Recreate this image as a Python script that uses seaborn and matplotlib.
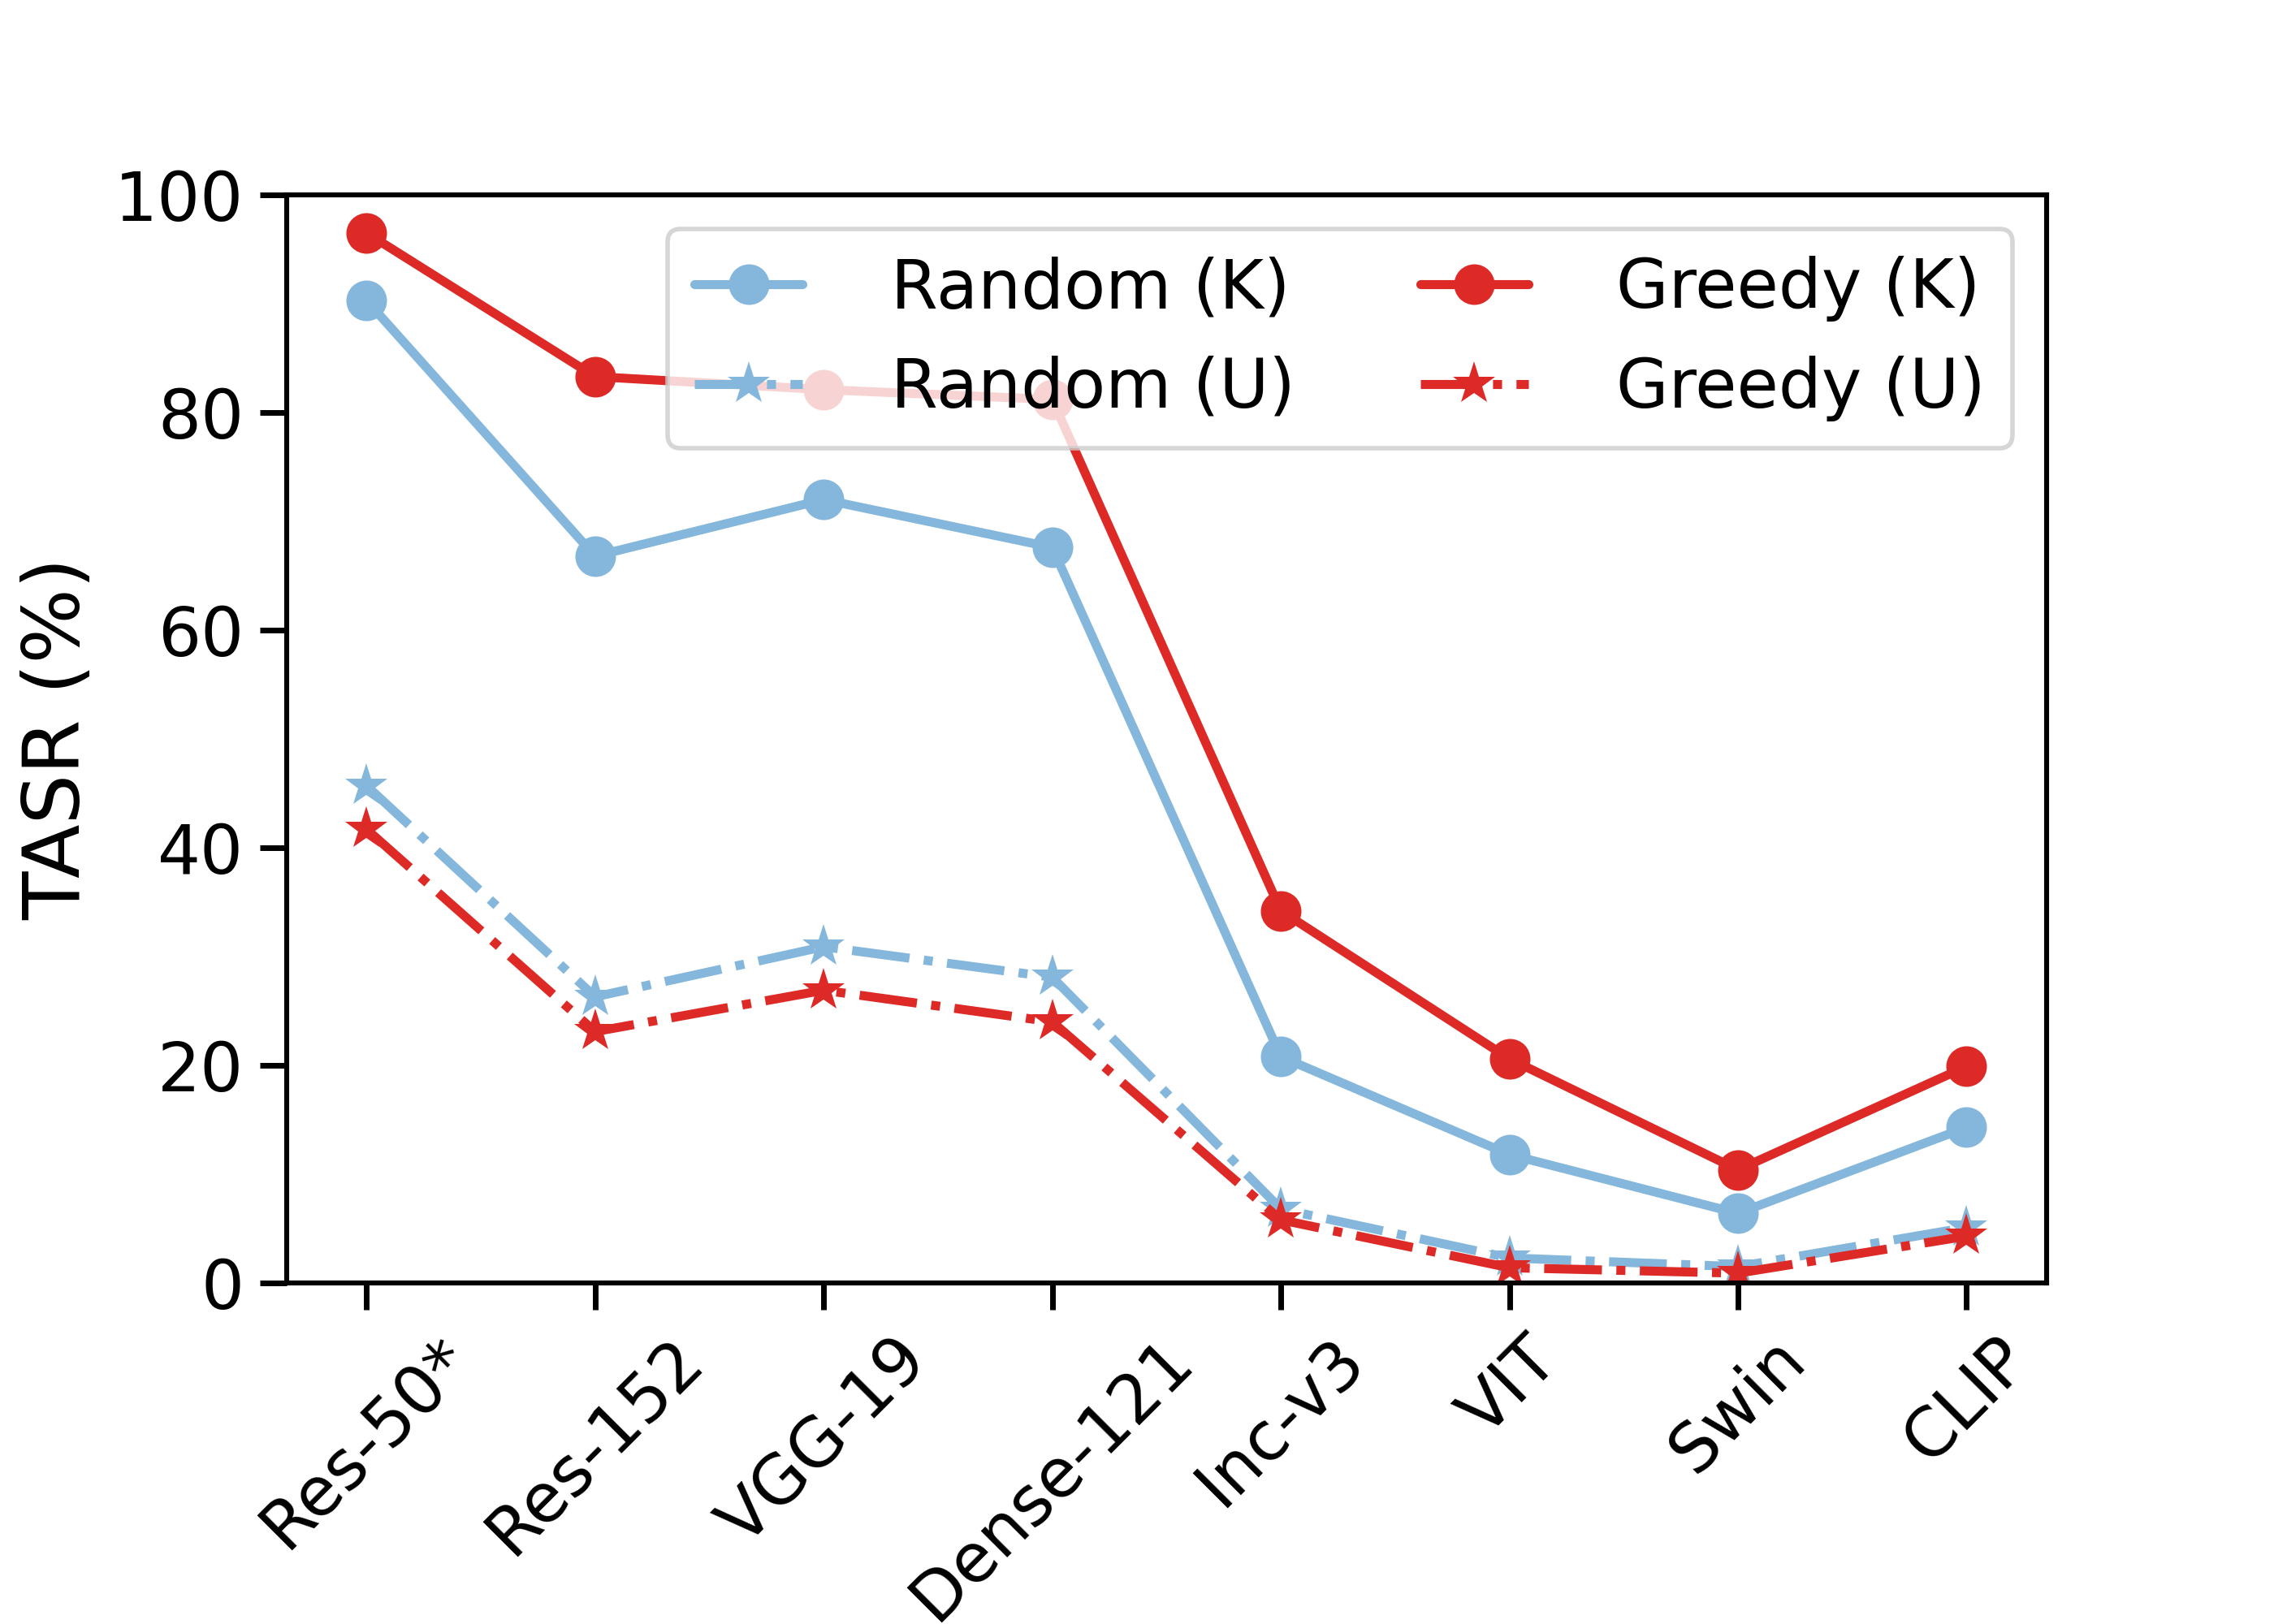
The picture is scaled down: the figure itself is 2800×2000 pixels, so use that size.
import matplotlib
matplotlib.use("Agg")
import matplotlib.pyplot as plt
import pandas as pd
import seaborn as sns

# Values
models = ["Res-50*", "Res-152", "VGG-19", "Dense-121", "Inc-v3", "VIT", "Swin", "CLIP"]
random_k = [90.3, 66.8, 72.0, 67.6, 20.8, 11.8, 6.4, 14.3]
random_u = [45.7, 26.3, 30.9, 28.1, 6.8, 2.3, 1.5, 5.1]
greedy_k = [96.5, 83.3, 82.1, 81.2, 34.2, 20.6, 10.4, 19.9]
greedy_u = [41.7, 23.1, 26.9, 24.0, 5.8, 1.4, 0.9, 4.3]

blue = "#84b7db"
red = "#de2a27"

series = [
    ("Random (K)", random_k, blue, "o", "-", 9),
    ("Random (U)", random_u, blue, "*", "-.", 10),
    ("Greedy (K)", greedy_k, red, "o", "-", 9),
    ("Greedy (U)", greedy_u, red, "*", "-.", 10),
]

sns.set_theme(
    style="ticks",
    rc={
        "axes.edgecolor": "black",
        "axes.linewidth": 1.1,
        "text.color": "black",
        "axes.labelcolor": "black",
        "xtick.color": "black",
        "ytick.color": "black",
    },
)
plt.rcParams["font.family"] = ["DejaVu Sans"]

fig, ax = plt.subplots(figsize=(7, 5), dpi=400)

for name, vals, color, marker, ls, ms in series:
    df = pd.DataFrame({"model": models, "tasr": vals})
    sns.lineplot(
        data=df,
        x="model",
        y="tasr",
        sort=False,
        color=color,
        marker=marker,
        markersize=ms,
        markeredgewidth=0,
        linestyle=ls,
        linewidth=2,
        label=name,
        ax=ax,
    )

ax.set_ylim(0, 100)
ax.set_yticks([0, 20, 40, 60, 80, 100])
ax.set_xlabel("")
ax.set_ylabel("TASR (%)", fontsize=17.5)
ax.tick_params(axis="both", labelsize=15)
plt.setp(ax.get_xticklabels(), rotation=45)
for side in ["top", "right"]:
    ax.spines[side].set_visible(True)

ax.legend(
    loc="upper right",
    ncol=2,
    fontsize=15,
    handlelength=1.6,
    handletextpad=1.3,
    columnspacing=1.85,
    labelspacing=0.5,
)

fig.subplots_adjust(left=0.126, right=0.9, top=0.88, bottom=0.21)
fig.savefig("out.png", dpi=400)
